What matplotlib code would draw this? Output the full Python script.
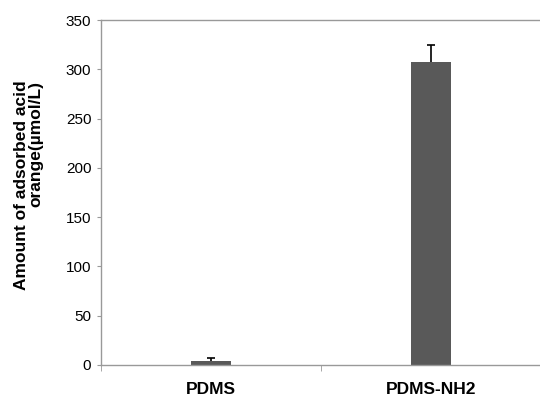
import numpy as np
import matplotlib.pyplot as plt

plt.rcParams['font.family'] = ['Liberation Sans', 'DejaVu Sans']

# data
categories = ['PDMS', 'PDMS-NH2']
values = [4.5, 307]
errors = [2.5, 17.5]

fig = plt.figure(figsize=(5.40, 3.99), dpi=100)
ax = fig.add_axes([101 / 540, 34 / 399, 440 / 540, 345 / 399])

x = np.arange(len(categories))
ax.bar(x, values, width=0.18, color='#595959', zorder=2)
eb = ax.errorbar(x, values, yerr=[np.zeros(len(errors)), errors], fmt='none',
                 ecolor='black', elinewidth=1.2, capsize=3, capthick=1.2, zorder=3)
# only the plus side is shown, hide the lower caps
eb[1][0].set_visible(False)

ax.set_xlim(-0.5, 1.5)
ax.set_ylim(0, 350)
ax.set_yticks(np.arange(0, 351, 50))
ax.set_xticks(x)
ax.set_xticklabels(categories, fontsize=12.5, fontweight='bold')
ax.set_xticks([-0.5, 0.5, 1.5], minor=True)
ax.tick_params(axis='x', which='major', length=0, pad=12)
ax.tick_params(axis='x', which='minor', length=4, color='#999999', direction='out')
ax.tick_params(axis='y', length=3, color='#999999', labelsize=11, pad=4)

for side in ['left', 'bottom', 'top']:
    ax.spines[side].set_color('#999999')
    ax.spines[side].set_linewidth(1.0)
ax.spines['right'].set_visible(False)

ax.set_ylabel('Amount of adsorbed acid\norange(\u00b5mol/L)', fontsize=12.5,
              fontweight='bold', multialignment='right', linespacing=1.0)
ax.yaxis.set_label_coords(-0.13, 0.52)

fig.savefig('out.png', dpi=100)
